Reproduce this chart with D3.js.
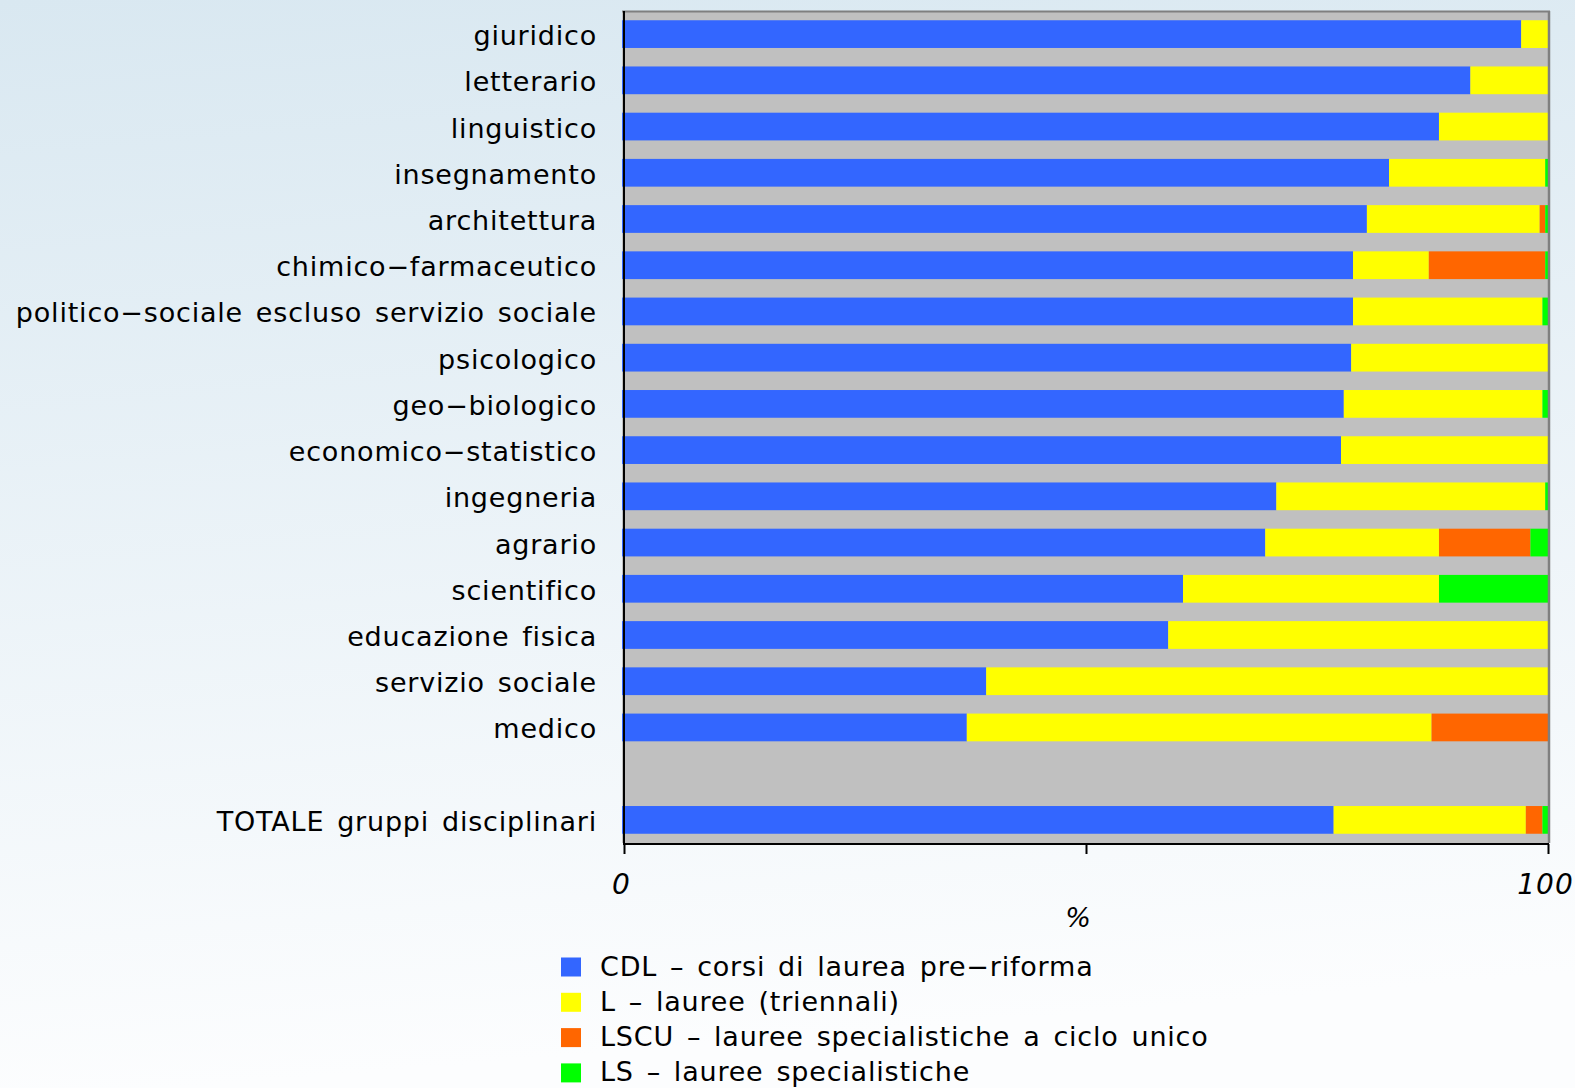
<!DOCTYPE html>
<html>
<head>
<meta charset="utf-8">
<script src="https://cdn.jsdelivr.net/npm/d3@7/dist/d3.min.js"></script>
<style>
  html, body { margin: 0; padding: 0; }
  body { width: 1575px; height: 1088px; overflow: hidden; }
  svg { display: block; }
  text { font-family: "DejaVu Sans", Verdana, sans-serif; fill: #000; }
</style>
</head>
<body>
<svg id="chart" width="1575" height="1088"></svg>
<script>
// Gruppi disciplinari (top to bottom); TOTALE is drawn after an empty row
const categories = [
  "giuridico", "letterario", "linguistico", "insegnamento", "architettura",
  "chimico−farmaceutico", "politico−sociale escluso servizio sociale",
  "psicologico", "geo−biologico", "economico−statistico", "ingegneria",
  "agrario", "scientifico", "educazione fisica", "servizio sociale", "medico",
  "TOTALE gruppi disciplinari"
];

// Percentage share of each degree type
const cdl  = [97.1, 91.6, 88.2, 82.8, 80.4, 78.9, 78.9, 78.7, 77.9, 77.6, 70.6, 69.4, 60.5, 58.9, 39.2, 37.1, 76.8];
const lTri = [2.9, 8.4, 11.8, 16.9, 18.7, 8.2, 20.5, 21.3, 21.5, 22.4, 29.1, 18.8, 27.7, 41.1, 60.8, 50.3, 20.8];
const lscu = [0, 0, 0, 0, 0.6, 12.6, 0, 0, 0, 0, 0, 9.9, 0, 0, 0, 12.6, 1.8];
const ls   = [0, 0, 0, 0.3, 0.3, 0.3, 0.6, 0, 0.6, 0, 0.3, 1.9, 11.8, 0, 0, 0, 0.6];

const seriesNames = [
  "CDL – corsi di laurea pre−riforma",
  "L – lauree (triennali)",
  "LSCU – lauree specialistiche a ciclo unico",
  "LS – lauree specialistiche"
];
const seriesColors = ["#3366ff", "#ffff00", "#ff6600", "#00ff00"];

const xTicks = [0, 50, 100];
const xTickLabels = ["0", "", "100"];
const xLabel = "%";

const svg = d3.select("#chart");
const W = 1575, H = 1088;

// page background: soft blue fading to white
const defs = svg.append("defs");
const grad = defs.append("linearGradient")
  .attr("id", "bg").attr("x1", 0).attr("y1", 0).attr("x2", 0.12).attr("y2", 1);
grad.append("stop").attr("offset", "0%").attr("stop-color", "#d9e8f1");
grad.append("stop").attr("offset", "100%").attr("stop-color", "#fcfdfe");
svg.append("rect").attr("width", W).attr("height", H).attr("fill", "url(#bg)");

const plot = { left: 622, right: 1548, top: 11, bottom: 843 };

const x = d3.scaleLinear().domain([0, 100]).range([624, 1548]);

const gapKey = "__spacer";
const rowKeys = categories.slice(0, 16).concat([gapKey, categories[16]]);
const y = d3.scaleBand()
  .domain(rowKeys)
  .range([plot.top, plot.bottom])
  .paddingInner(0.4)
  .paddingOuter(0.2);

// plot panel
svg.append("rect")
  .attr("x", plot.left).attr("y", plot.top)
  .attr("width", plot.right - plot.left).attr("height", plot.bottom - plot.top)
  .attr("fill", "#c0c0c0");

// stacked bars
const rows = categories.map((c, i) => ({ cat: c, cdl: cdl[i], l: lTri[i], lscu: lscu[i], ls: ls[i] }));
const stack = d3.stack().keys(["cdl", "l", "lscu", "ls"]);
const layers = stack(rows);

svg.append("g").selectAll("g")
  .data(layers)
  .join("g")
  .attr("fill", (d, i) => seriesColors[i])
  .selectAll("rect")
  .data(d => d.filter(p => p[1] - p[0] > 0))
  .join("rect")
  .attr("x", d => (d[0] === 0 ? plot.left : x(d[0])))
  .attr("y", d => y(d.data.cat))
  .attr("width", d => x(d[1]) - (d[0] === 0 ? plot.left : x(d[0])))
  .attr("height", y.bandwidth());

// panel border (top and right)
svg.append("line")
  .attr("x1", plot.left).attr("x2", plot.right + 2)
  .attr("y1", plot.top + 0.5).attr("y2", plot.top + 0.5)
  .attr("stroke", "#7f7f7f").attr("stroke-width", 2);
svg.append("line")
  .attr("x1", plot.right + 1).attr("x2", plot.right + 1)
  .attr("y1", plot.top).attr("y2", plot.bottom)
  .attr("stroke", "#7f7f7f").attr("stroke-width", 2.5);

// left axis line
svg.append("line")
  .attr("x1", x(0)).attr("x2", x(0))
  .attr("y1", plot.top).attr("y2", plot.bottom + 1)
  .attr("stroke", "#000").attr("stroke-width", 2);

// category labels
svg.append("g").selectAll("text")
  .data(categories)
  .join("text")
  .attr("x", 597)
  .attr("y", d => y(d) + y.bandwidth() / 2 + 11)
  .attr("text-anchor", "end")
  .style("font-size", "27px")
  .style("letter-spacing", "0.8px")
  .style("word-spacing", "3.5px")
  .text(d => d);

// bottom axis
const xAxis = d3.axisBottom(x)
  .tickValues(xTicks)
  .tickSize(10)
  .tickFormat((d, i) => xTickLabels[i]);
const gx = svg.append("g")
  .attr("transform", `translate(0,${plot.bottom + 1})`)
  .call(xAxis);
gx.select(".domain")
  .attr("d", `M${x(0) - 1},0H${x(100) + 1}`)
  .attr("stroke", "#000").attr("stroke-width", 2);
gx.selectAll(".tick line").attr("stroke", "#000").attr("stroke-width", 2);
gx.selectAll(".tick text")
  .attr("y", 0)
  .attr("dy", 0)
  .attr("transform", "translate(-3,50)")
  .style("font-size", "28px")
  .style("font-style", "italic")
  .style("letter-spacing", "1px")
  .style("font-family", '"DejaVu Sans", Verdana, sans-serif')
  .attr("fill", "#000");

svg.append("text")
  .attr("x", 1078).attr("y", 927)
  .attr("text-anchor", "middle")
  .style("font-size", "27px")
  .style("font-style", "italic")
  .text(xLabel);

// legend
const legend = svg.append("g").selectAll("g")
  .data(seriesNames)
  .join("g")
  .attr("transform", (d, i) => `translate(561,${967.5 + i * 35.3})`);
legend.append("rect")
  .attr("x", 0).attr("y", -10)
  .attr("width", 20).attr("height", 19)
  .attr("fill", (d, i) => seriesColors[i]);
legend.append("text")
  .attr("x", 39).attr("y", 8)
  .style("font-size", "27px")
  .style("letter-spacing", "0.8px")
  .style("word-spacing", "3.5px")
  .text(d => d);
</script>
</body>
</html>
